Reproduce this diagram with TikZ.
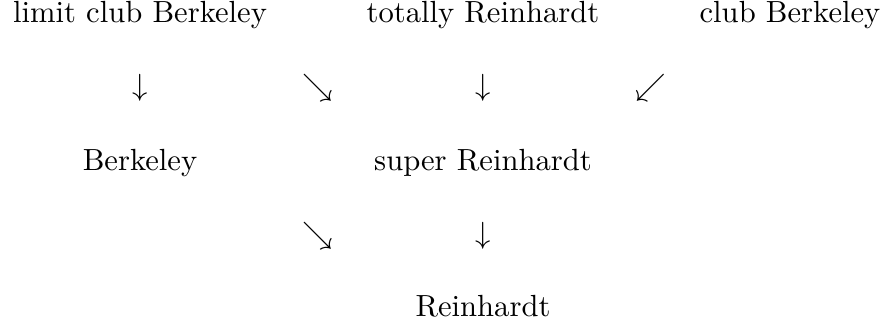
\documentclass[tikz,border=0pt]{standalone}
\begin{document}
\begin{tikzpicture}[x=0.3268pt,y=-0.3268pt,
  lbl/.style={inner sep=0pt,outer sep=0pt,anchor=base},
  arr/.style={inner sep=0pt,outer sep=0pt,anchor=base}]
\useasboundingbox (0,0) rectangle (885,329);
% row 1
\node[lbl] (lcb) at (140,23) {limit club Berkeley};
\node[lbl] (tr)  at (483,23) {totally Reinhardt};
\node[lbl] (cb)  at (790,23) {club Berkeley};
% row 2 arrows
\node[arr] (a1) at (140,96) {$\downarrow$};
\node[arr] (a2) at (318,96) {$\searrow$};
\node[arr] (a3) at (483,96) {$\downarrow$};
\node[arr] (a4) at (651,96) {$\swarrow$};
% row 3
\node[lbl] (b)  at (140,171) {Berkeley};
\node[lbl] (sr) at (483,171) {super Reinhardt};
% row 4 arrows
\node[arr] (a5) at (318,244) {$\searrow$};
\node[arr] (a6) at (483,244) {$\downarrow$};
% row 5
\node[lbl] (r) at (483,317) {Reinhardt};
\end{tikzpicture}
\end{document}
